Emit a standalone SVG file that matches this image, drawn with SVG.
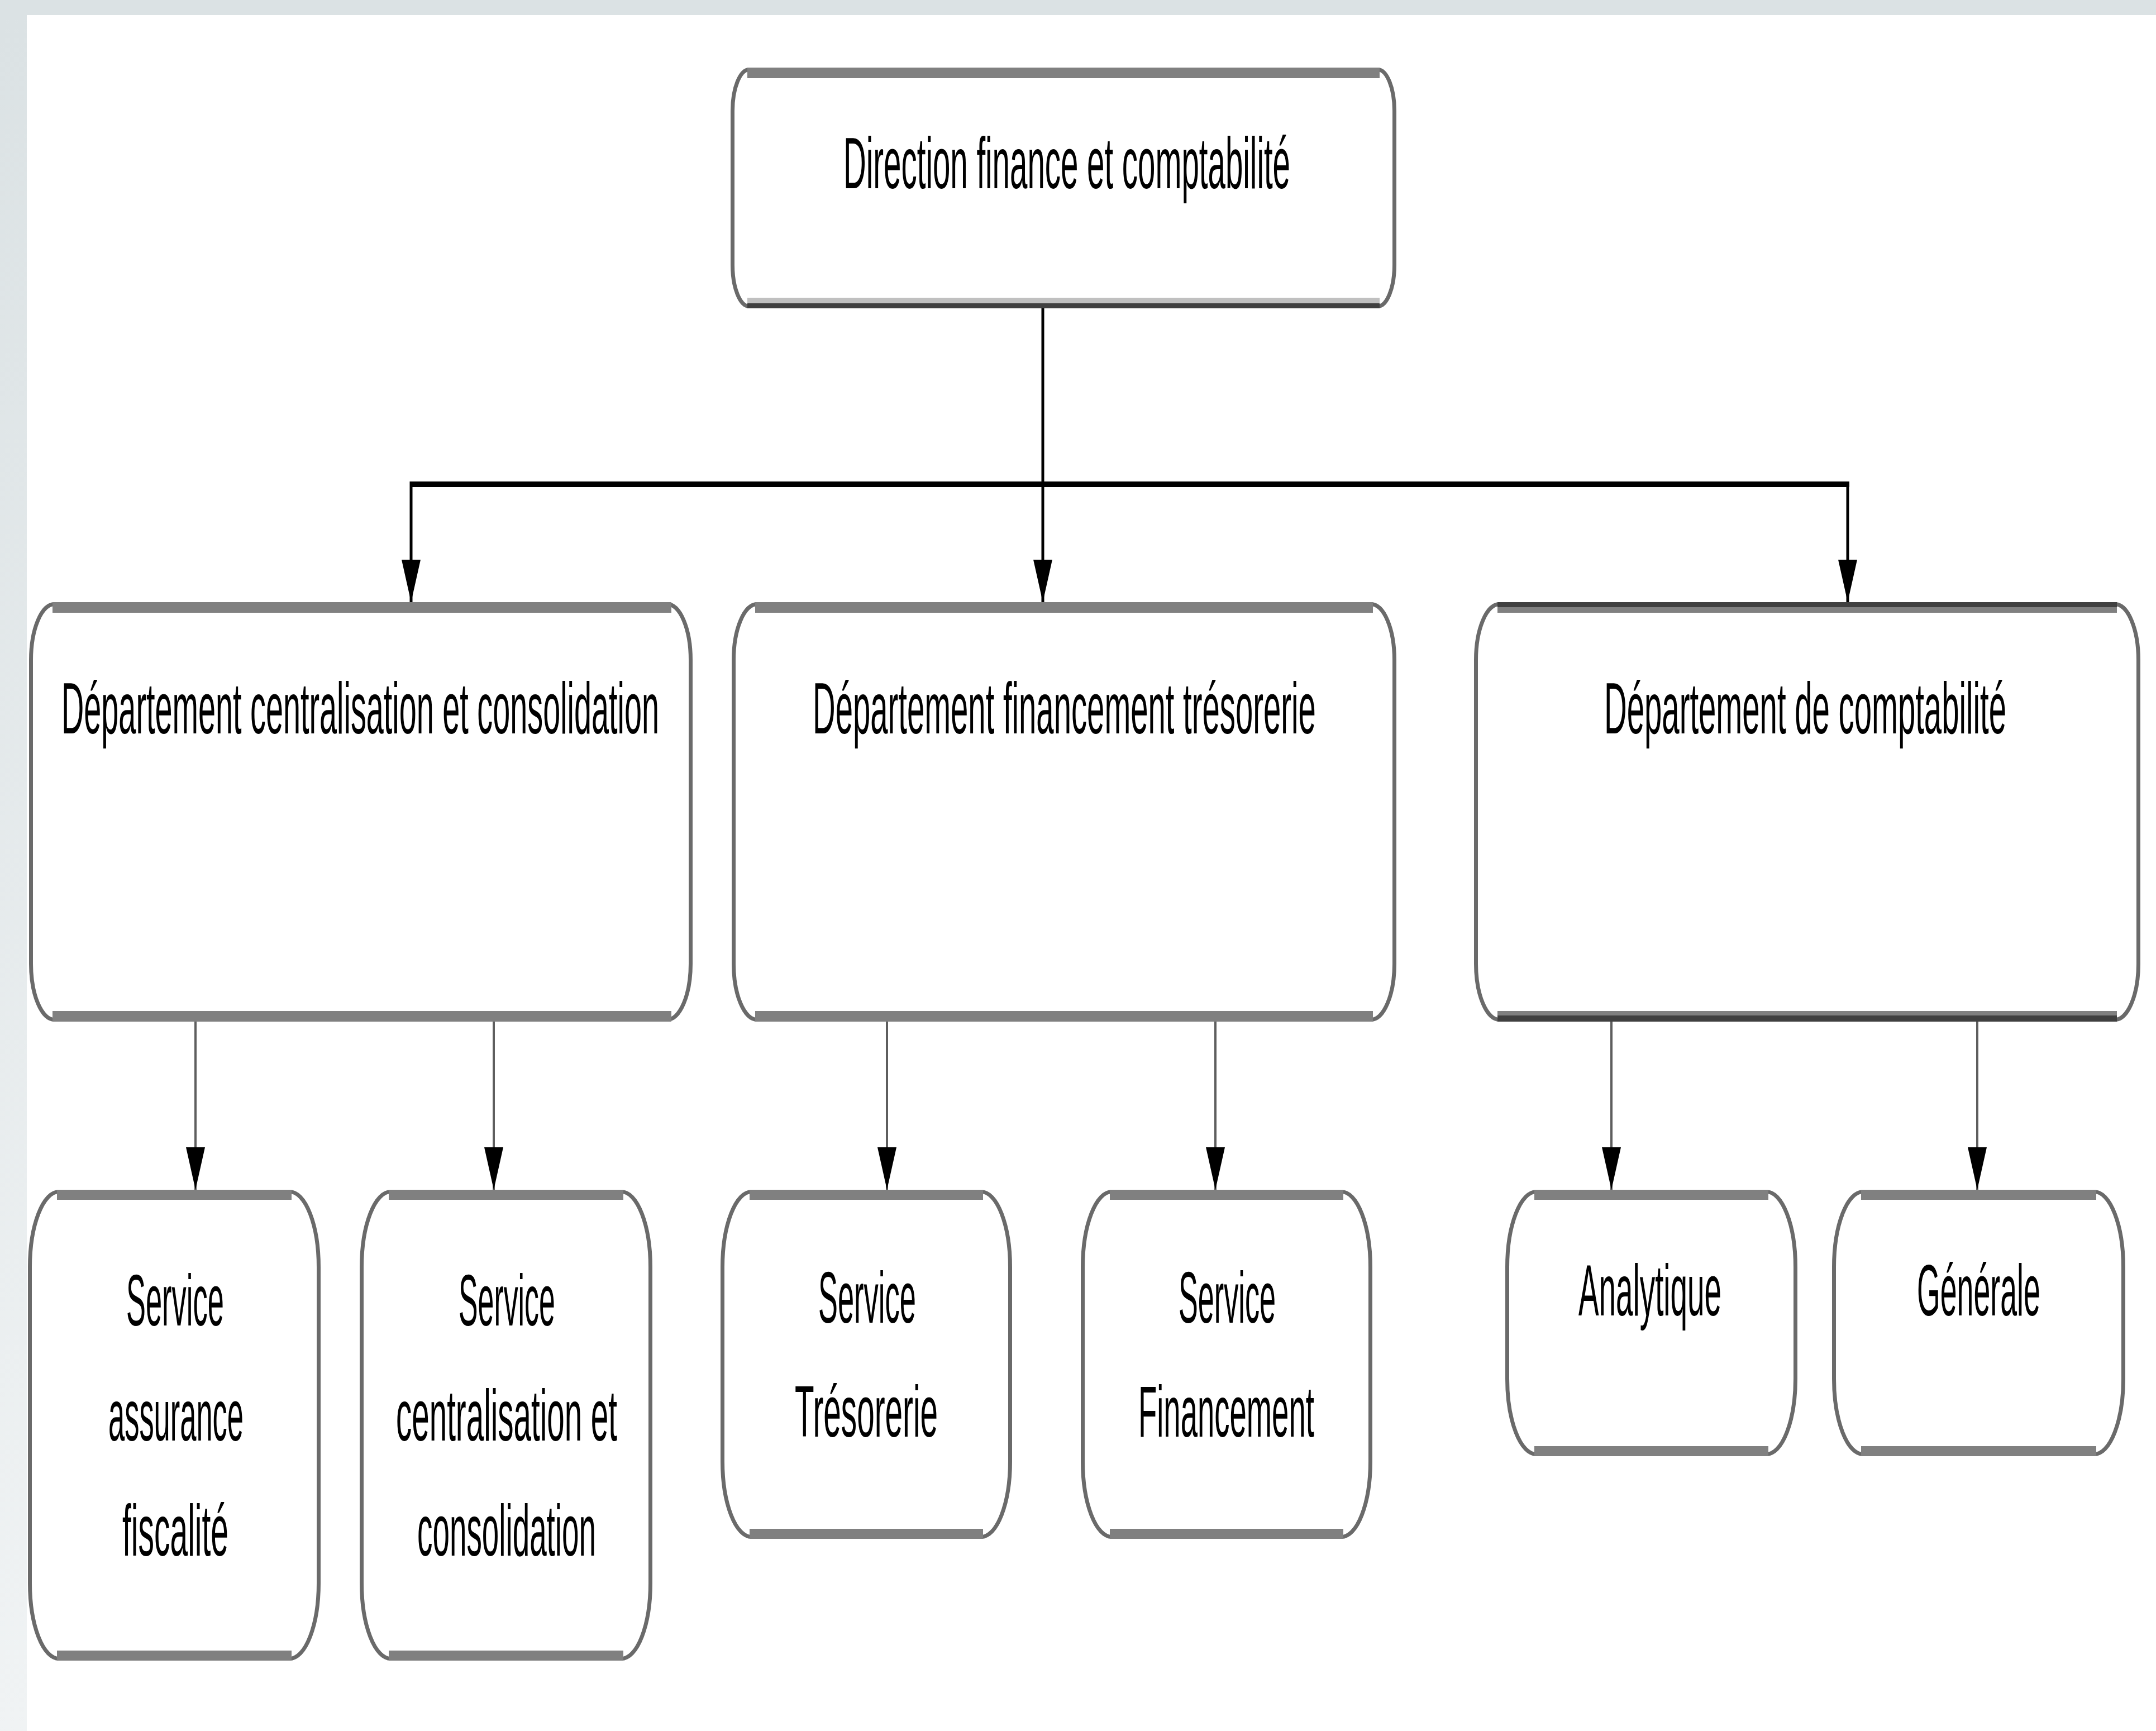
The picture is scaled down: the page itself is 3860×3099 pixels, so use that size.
<svg xmlns="http://www.w3.org/2000/svg" width="3860" height="3099" viewBox="0 0 3860 3099">
<defs>
<linearGradient id="bgStrip" x1="0" y1="0" x2="0" y2="1"><stop offset="0" stop-color="#dbe2e4"/><stop offset="1" stop-color="#f0f3f4"/></linearGradient>
<marker id="arrow" markerUnits="userSpaceOnUse" markerWidth="76" markerHeight="34" viewBox="0 0 76 34" refX="76" refY="17" orient="auto"><path d="M0,0 L76,17 L0,34 z" fill="#000"/></marker>
<style>
.box{fill:#fff;stroke:#6a6a6a;stroke-width:7}
.band{fill:#808080}
.lbl{font-family:"Liberation Sans",Arial,sans-serif;font-size:130px;fill:#000}
.conn{fill:none;stroke:#000;stroke-width:5}
.bar{fill:none;stroke:#000;stroke-width:10}
.conn2{fill:none;stroke:#5e5e5e;stroke-width:4}
</style>
</defs>
<rect width="3860" height="3099" fill="#fff"/>
<rect x="0" y="0" width="3860" height="27" fill="#dbe2e4"/>
<rect x="0" y="27" width="48" height="3072" fill="url(#bgStrip)"/>

<g id="connectors">
<line class="conn" x1="1867" y1="552" x2="1867" y2="1078" marker-end="url(#arrow)"/>
<line class="bar" x1="734" y1="867" x2="3311" y2="867"/>
<line class="conn" x1="736" y1="862" x2="736" y2="1078" marker-end="url(#arrow)"/>
<line class="conn" x1="3308" y1="862" x2="3308" y2="1078" marker-end="url(#arrow)"/>
<line class="conn2" x1="350" y1="1829" x2="350" y2="2130" marker-end="url(#arrow)"/>
<line class="conn2" x1="884" y1="1829" x2="884" y2="2130" marker-end="url(#arrow)"/>
<line class="conn2" x1="1588" y1="1829" x2="1588" y2="2130" marker-end="url(#arrow)"/>
<line class="conn2" x1="2176" y1="1829" x2="2176" y2="2130" marker-end="url(#arrow)"/>
<line class="conn2" x1="2885" y1="1829" x2="2885" y2="2130" marker-end="url(#arrow)"/>
<line class="conn2" x1="3540" y1="1829" x2="3540" y2="2130" marker-end="url(#arrow)"/>
</g>

<g id="direction">
<rect class="box" x="1311.5" y="124.5" width="1185" height="424" rx="30" ry="74"/>
<rect class="band" x="1338" y="121" width="1132" height="19"/>
<rect x="1338" y="533" width="1132" height="10" fill="#c0c0c0"/>
<rect x="1338" y="543" width="1132" height="9" fill="#404040"/>
<text class="lbl" transform="translate(1510,337) scale(0.4,1)" textLength="2000" lengthAdjust="spacingAndGlyphs">Direction finance et comptabilité</text>
</g>

<g id="dept-centralisation">
<rect class="box" x="55.5" y="1081.5" width="1181" height="744" rx="42" ry="100"/>
<rect class="band" x="94" y="1078" width="1108" height="19"/>
<rect class="band" x="94" y="1810" width="1108" height="19"/>
<text class="lbl" transform="translate(110,1313) scale(0.4,1)" textLength="2675" lengthAdjust="spacingAndGlyphs">Département centralisation et consolidation</text>
</g>

<g id="dept-financement">
<rect class="box" x="1313.5" y="1081.5" width="1183" height="744" rx="42" ry="100"/>
<rect class="band" x="1352" y="1078" width="1106" height="19"/>
<rect class="band" x="1352" y="1810" width="1106" height="19"/>
<text class="lbl" transform="translate(1455,1313) scale(0.4,1)" textLength="2252" lengthAdjust="spacingAndGlyphs">Département financement trésorerie</text>
</g>

<g id="dept-comptabilite">
<rect class="box" x="2642.5" y="1081.5" width="1186" height="744" rx="42" ry="100"/>
<rect x="2681" y="1078" width="1109" height="9" fill="#404040"/>
<rect class="band" x="2681" y="1087" width="1109" height="10"/>
<rect class="band" x="2681" y="1810" width="1109" height="8"/>
<rect x="2681" y="1818" width="1109" height="11" fill="#404040"/>
<text class="lbl" transform="translate(2872,1313) scale(0.4,1)" textLength="1800" lengthAdjust="spacingAndGlyphs">Département de comptabilité</text>
</g>

<g id="svc-assurance">
<rect class="box" x="53.5" y="2133.5" width="517" height="836" rx="52" ry="135"/>
<rect class="band" x="102" y="2130" width="420" height="18"/>
<rect class="band" x="102" y="2955" width="420" height="18"/>
<text class="lbl" transform="translate(226,2373) scale(0.4,1)" textLength="437" lengthAdjust="spacingAndGlyphs">Service</text>
<text class="lbl" transform="translate(194,2579) scale(0.4,1)" textLength="605" lengthAdjust="spacingAndGlyphs">assurance</text>
<text class="lbl" transform="translate(219,2785) scale(0.4,1)" textLength="475" lengthAdjust="spacingAndGlyphs">fiscalité</text>
</g>

<g id="svc-centralisation">
<rect class="box" x="647.5" y="2133.5" width="517" height="836" rx="52" ry="135"/>
<rect class="band" x="696" y="2130" width="420" height="18"/>
<rect class="band" x="696" y="2955" width="420" height="18"/>
<text class="lbl" transform="translate(821,2373) scale(0.4,1)" textLength="432" lengthAdjust="spacingAndGlyphs">Service</text>
<text class="lbl" transform="translate(709,2579) scale(0.4,1)" textLength="990" lengthAdjust="spacingAndGlyphs">centralisation et</text>
<text class="lbl" transform="translate(747,2785) scale(0.4,1)" textLength="800" lengthAdjust="spacingAndGlyphs">consolidation</text>
</g>

<g id="svc-tresorerie">
<rect class="box" x="1293.5" y="2133.5" width="515" height="618" rx="52" ry="135"/>
<rect class="band" x="1342" y="2130" width="418" height="18"/>
<rect class="band" x="1342" y="2737" width="418" height="18"/>
<text class="lbl" transform="translate(1465,2368) scale(0.4,1)" textLength="437" lengthAdjust="spacingAndGlyphs">Service</text>
<text class="lbl" transform="translate(1423,2572) scale(0.4,1)" textLength="640" lengthAdjust="spacingAndGlyphs">Trésorerie</text>
</g>

<g id="svc-financement">
<rect class="box" x="1938.5" y="2133.5" width="515" height="618" rx="52" ry="135"/>
<rect class="band" x="1987" y="2130" width="418" height="18"/>
<rect class="band" x="1987" y="2737" width="418" height="18"/>
<text class="lbl" transform="translate(2110,2368) scale(0.4,1)" textLength="435" lengthAdjust="spacingAndGlyphs">Service</text>
<text class="lbl" transform="translate(2038,2572) scale(0.4,1)" textLength="787" lengthAdjust="spacingAndGlyphs">Financement</text>
</g>

<g id="analytique">
<rect class="box" x="2698.5" y="2133.5" width="516" height="470" rx="52" ry="135"/>
<rect class="band" x="2747" y="2130" width="419" height="18"/>
<rect class="band" x="2747" y="2589" width="419" height="18"/>
<text class="lbl" transform="translate(2826,2355) scale(0.4,1)" textLength="640" lengthAdjust="spacingAndGlyphs">Analytique</text>
</g>

<g id="generale">
<rect class="box" x="3283.5" y="2133.5" width="518" height="470" rx="52" ry="135"/>
<rect class="band" x="3332" y="2130" width="421" height="18"/>
<rect class="band" x="3332" y="2589" width="421" height="18"/>
<text class="lbl" transform="translate(3432,2355) scale(0.4,1)" textLength="552" lengthAdjust="spacingAndGlyphs">Générale</text>
</g>
</svg>
